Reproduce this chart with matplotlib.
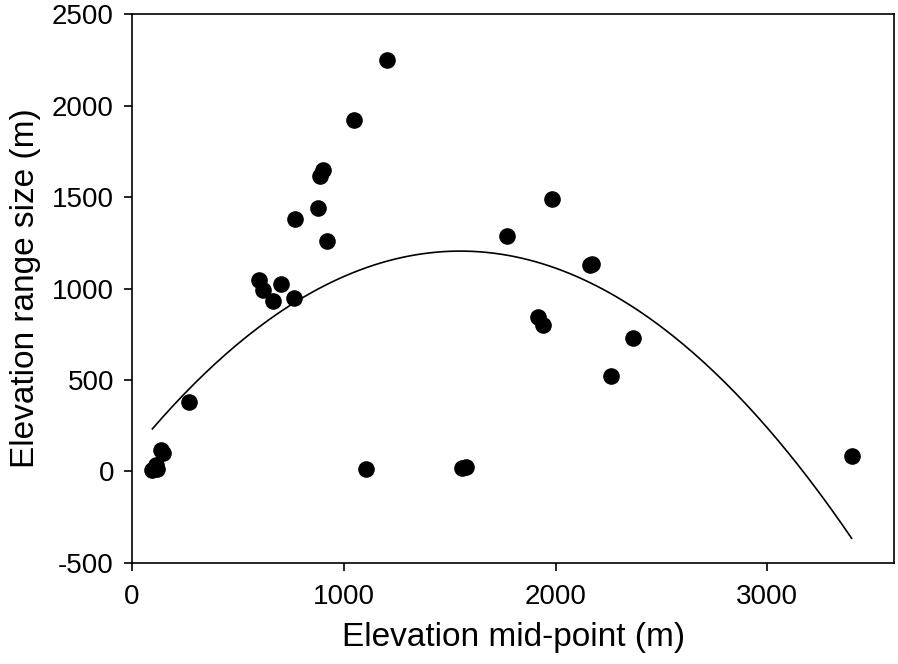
import numpy as np
import matplotlib
matplotlib.use('Agg')
import matplotlib.pyplot as plt

plt.rcParams['font.family'] = ['Liberation Sans', 'DejaVu Sans']
plt.rcParams['axes.unicode_minus'] = False

# elevation mid-point (m) and elevation range size (m)
midpoint = [1202, 1046, 904, 890, 880, 771, 921, 1983, 1770, 2163, 2172,
            1918, 1940, 2365, 2262, 3398, 602, 618, 704, 664, 763, 270,
            136, 145, 96, 112, 117, 1103, 1557, 1579]
range_size = [2248, 1920, 1647, 1615, 1439, 1382, 1260, 1488, 1290, 1127, 1137,
              845, 800, 727, 521, 84, 1047, 992, 1027, 930, 949, 380,
              116, 98, 7, 34, 12, 11, 16, 22]

# quadratic regression curve (vertex form) as drawn in the figure
curve_a = -4.6e-4
curve_peak_x = 1550
curve_peak_y = 1205

xfit = np.linspace(min(midpoint), max(midpoint), 200)
yfit = curve_a * (xfit - curve_peak_x) ** 2 + curve_peak_y

fig = plt.figure(figsize=(8.98, 6.64), dpi=100)
ax = fig.add_axes([0.147, 0.1524, 0.849, 0.826])
ax.plot(xfit, yfit, color='black', lw=1.2)
ax.scatter(midpoint, range_size, s=120, color='black', zorder=3)

ax.set_xlim(0, 3600)
ax.set_ylim(-500, 2500)
ax.set_xticks([0, 1000, 2000, 3000])
ax.set_yticks(range(-500, 2501, 500))
ax.tick_params(direction='out', length=6, width=1.2, labelsize=20)
ax.tick_params(axis='x', pad=9)
ax.tick_params(axis='y', pad=7)
for s in ax.spines.values():
    s.set_linewidth(1.2)
ax.set_xlabel('Elevation mid-point (m)', fontsize=24, labelpad=9)
ax.set_ylabel('Elevation range size (m)', fontsize=24, labelpad=8)

fig.savefig('out.png', dpi=100)
